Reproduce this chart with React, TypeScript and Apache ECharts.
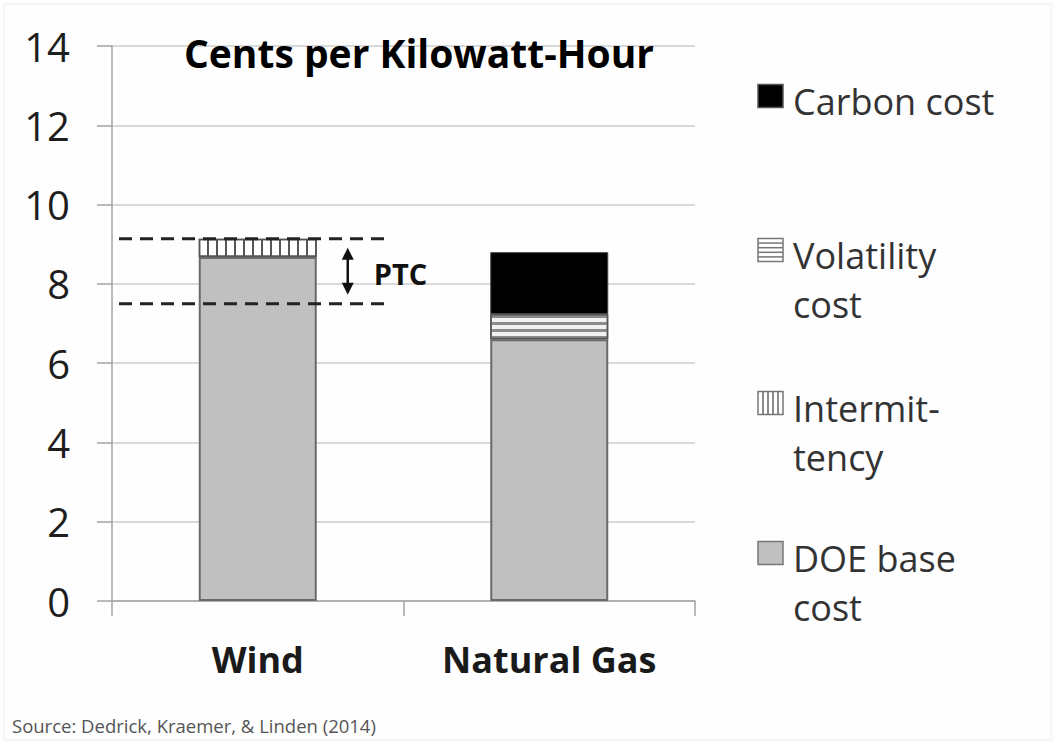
import React, { useEffect, useRef } from "react";
import * as echarts from "echarts";

// ---- Data ----
const categories = ["Wind", "Natural Gas"];
const doeBaseCost = [8.68, 6.6];
const intermittencyCost = [0.46, 0];
const volatilityCost = [0, 0.64];
const carbonCost = [0, 1.56];
const yTickValues = [0, 2, 4, 6, 8, 10, 12, 14];
const ptcUpper = 9.14;
const ptcLower = 7.5;

const seriesNames = ["DOE base cost", "Intermittency", "Volatility cost", "Carbon cost"];
const legendLabels = ["Carbon cost", "Volatility\ncost", "Intermit-\ntency", "DOE base\ncost"];

const FONT = '"Open Sans", "Noto Sans", sans-serif';

const blankZero = (arr: number[]) => arr.map((v) => (v === 0 ? "-" : v));

export default function App() {
  const ref = useRef<HTMLDivElement>(null);

  useEffect(() => {
    if (!ref.current) return;
    const chart = echarts.init(ref.current, undefined, { renderer: "svg" });

    const gridLeft = 112;
    const gridTop = 46;
    const gridRight = 360;
    const gridBottom = 143;

    const option: any = {
      animation: false,
      backgroundColor: "#fefefe",
      grid: { left: gridLeft, top: gridTop, right: gridRight, bottom: gridBottom, containLabel: false },
      xAxis: {
        type: "category",
        data: categories,
        boundaryGap: true,
        axisLine: { show: true, lineStyle: { color: "#a3a3a3", width: 1.5 } },
        axisTick: { show: true, length: 15, lineStyle: { color: "#a3a3a3", width: 1.5 } },
        axisLabel: {
          margin: 40,
          fontFamily: FONT,
          fontSize: 36,
          fontWeight: "bold",
          color: "#1a1a1a",
        },
      },
      yAxis: {
        type: "value",
        min: yTickValues[0],
        max: yTickValues[yTickValues.length - 1],
        interval: yTickValues[1] - yTickValues[0],
        axisLine: { show: true, lineStyle: { color: "#a3a3a3", width: 1.5 } },
        axisTick: { show: true, length: 15, lineStyle: { color: "#a3a3a3", width: 1.5 } },
        splitLine: { show: true, lineStyle: { color: "#cdcdcd", width: 1.5 } },
        axisLabel: {
          margin: 42,
          fontFamily: FONT,
          fontSize: 40,
          color: "#1e1e1e",
        },
      },
      series: [
        {
          name: seriesNames[0],
          type: "bar",
          stack: "total",
          barWidth: 118,
          data: blankZero(doeBaseCost),
          itemStyle: { color: "#c0c0c0", borderColor: "#6a6a6a", borderWidth: 2 },
        },
        {
          name: seriesNames[1],
          type: "bar",
          stack: "total",
          barWidth: 118,
          data: blankZero(intermittencyCost),
          itemStyle: {
            color: "#ffffff",
            borderColor: "#555555",
            borderWidth: 1.5,
            decal: {
              symbol: "rect",
              symbolSize: 1,
              color: "#555555",
              dashArrayX: [2, 7],
              dashArrayY: [1, 0],
              rotation: 0,
            },
          },
        },
        {
          name: seriesNames[2],
          type: "bar",
          stack: "total",
          barWidth: 118,
          data: blankZero(volatilityCost),
          itemStyle: {
            color: "#f2f2f2",
            borderColor: "#555555",
            borderWidth: 1.5,
            decal: {
              symbol: "rect",
              symbolSize: 1,
              color: "#8c8c8c",
              dashArrayX: [1, 0],
              dashArrayY: [2.5, 4],
              rotation: 0,
            },
          },
        },
        {
          name: seriesNames[3],
          type: "bar",
          stack: "total",
          barWidth: 118,
          data: blankZero(carbonCost),
          itemStyle: { color: "#000000", borderColor: "#444444", borderWidth: 1 },
        },
      ],
    };

    chart.setOption(option);

    const yUp = chart.convertToPixel({ yAxisIndex: 0 }, ptcUpper) as number;
    const yLo = chart.convertToPixel({ yAxisIndex: 0 }, ptcLower) as number;
    const xWind = chart.convertToPixel({ xAxisIndex: 0 }, categories[0]) as number;

    const dashStart = gridLeft + 7;
    const dashEnd = xWind + 130;
    const arrowX = xWind + 90;
    const tipTop = yUp + 9;
    const tipBot = yLo - 9;
    const headH = 12;
    const headW = 6;

    const graphics: any[] = [];

    // faint frame
    graphics.push({
      type: "rect",
      shape: { x: 4, y: 4, width: 1047, height: 736 },
      style: { fill: "none", stroke: "#efefef", lineWidth: 1 },
      silent: true,
    });

    // title
    graphics.push({
      type: "text",
      x: 419,
      y: 52,
      style: {
        text: "Cents per Kilowatt-Hour",
        fontFamily: FONT,
        fontSize: 39,
        fontWeight: "bold",
        fill: "#000000",
        align: "center",
        verticalAlign: "middle",
      },
    });

    // PTC dashed lines
    [yUp, yLo].forEach((y) => {
      graphics.push({
        type: "line",
        shape: { x1: dashStart, y1: y, x2: dashEnd, y2: y },
        style: { stroke: "#222222", lineWidth: 3, lineDash: [13, 8] },
        z: 10,
      });
    });

    // double arrow
    graphics.push({
      type: "line",
      shape: { x1: arrowX, y1: tipTop + headH - 2, x2: arrowX, y2: tipBot - headH + 2 },
      style: { stroke: "#111111", lineWidth: 2.5 },
      z: 10,
    });
    graphics.push({
      type: "polygon",
      shape: { points: [[arrowX, tipTop], [arrowX - headW, tipTop + headH], [arrowX + headW, tipTop + headH]] },
      style: { fill: "#111111" },
      z: 10,
    });
    graphics.push({
      type: "polygon",
      shape: { points: [[arrowX, tipBot], [arrowX - headW, tipBot - headH], [arrowX + headW, tipBot - headH]] },
      style: { fill: "#111111" },
      z: 10,
    });
    graphics.push({
      type: "text",
      x: arrowX + 26,
      y: (yUp + yLo) / 2 + 2,
      style: {
        text: "PTC",
        fontFamily: FONT,
        fontSize: 29,
        fontWeight: "bold",
        fill: "#111111",
        align: "left",
        verticalAlign: "middle",
      },
      z: 10,
    });

    // legend
    const legendCenters = [101, 255, 408, 558];
    const iconX = 758;
    const iconW = 25;
    const iconH = 23;
    legendLabels.forEach((label, i) => {
      const cy = legendCenters[i];
      const iy = cy - 5 - iconH / 2;
      const children: any[] = [];
      const kind = i; // 0 carbon, 1 volatility, 2 intermittency, 3 base
      const fill = kind === 0 ? "#000000" : kind === 3 ? "#c0c0c0" : "#ffffff";
      children.push({
        type: "rect",
        shape: { x: iconX, y: iy, width: iconW, height: iconH },
        style: { fill, stroke: kind === 0 ? "#555" : "#777", lineWidth: 1.5 },
      });
      if (kind === 1) {
        for (let k = 1; k < 5; k++) {
          const yy = iy + (k * iconH) / 5;
          children.push({
            type: "line",
            shape: { x1: iconX, y1: yy, x2: iconX + iconW, y2: yy },
            style: { stroke: "#777", lineWidth: 1.5 },
          });
        }
      }
      if (kind === 2) {
        for (let k = 1; k < 5; k++) {
          const xx = iconX + (k * iconW) / 5;
          children.push({
            type: "line",
            shape: { x1: xx, y1: iy, x2: xx, y2: iy + iconH },
            style: { stroke: "#666", lineWidth: 1.5 },
          });
        }
      }
      children.push({
        type: "text",
        x: 793,
        y: cy - 24.5,
        style: {
          text: label,
          fontFamily: FONT,
          fontSize: 36,
          lineHeight: 49,
          fill: "#333333",
          align: "left",
          verticalAlign: "top",
        },
      });
      graphics.push({ type: "group", children });
    });

    // source
    graphics.push({
      type: "text",
      x: 12,
      y: 725,
      style: {
        text: "Source: Dedrick, Kraemer, & Linden (2014)",
        fontFamily: FONT,
        fontSize: 18.5,
        fill: "#555555",
        align: "left",
        verticalAlign: "middle",
      },
    });

    chart.setOption({ graphic: graphics });

    return () => {
      chart.dispose();
    };
  }, []);

  return (
    <div
      ref={ref}
      style={{ position: "fixed", left: 0, top: 0, width: 1055, height: 744 }}
    />
  );
}
